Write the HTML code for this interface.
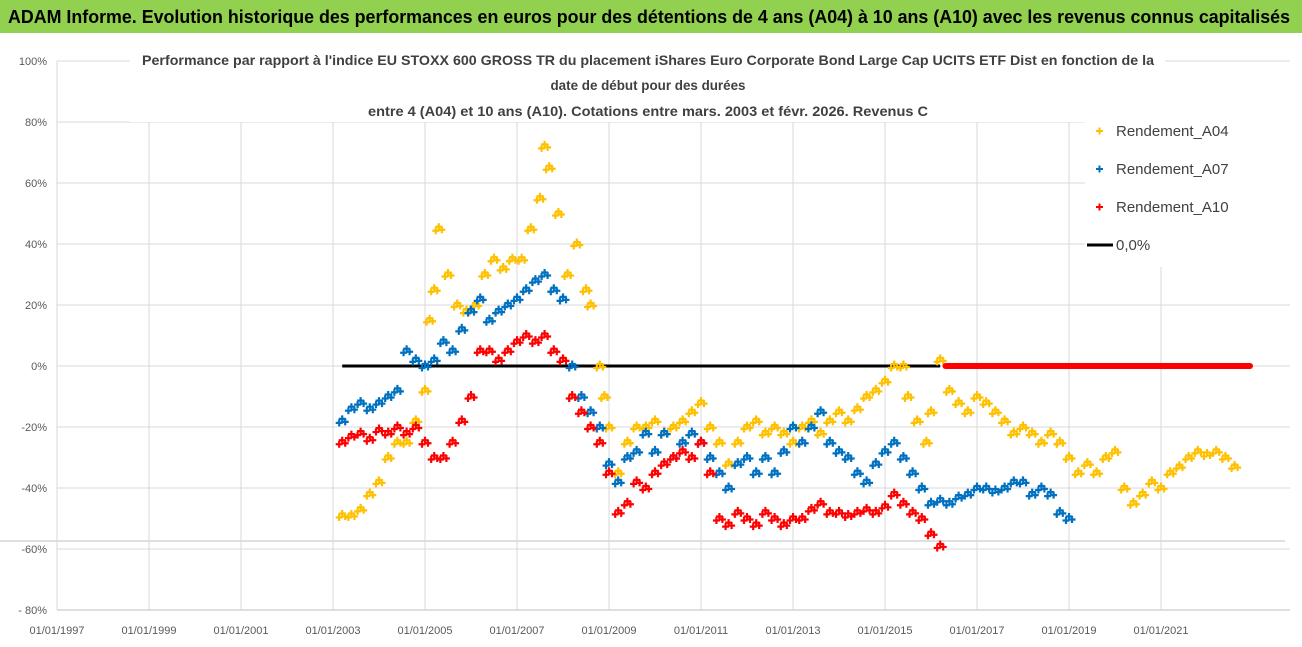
<!DOCTYPE html>
<html><head><meta charset="utf-8"><style>
body{margin:0;background:#fff}
svg{display:block;font-family:"Liberation Sans",sans-serif}
</style></head><body>
<svg id="chart" width="1302" height="647" viewBox="0 0 1302 647" xmlns="http://www.w3.org/2000/svg">
<rect x="0" y="0" width="1302" height="647" fill="#fff"/>
<rect x="0" y="0" width="1302" height="33" fill="#92d050"/>
<text x="8" y="23" font-size="18" font-weight="bold" fill="#000" textLength="1282" lengthAdjust="spacingAndGlyphs">ADAM Informe. Evolution historique des performances en euros pour des détentions de 4 ans (A04) à 10 ans (A10) avec les revenus connus capitalisés</text>
<g id="grid"></g>
<g id="ylab"></g>
<g id="xlab"></g>
<g id="marks"></g>
<rect x="130" y="44" width="1035" height="78" fill="#fff"/>
<g font-size="14" font-weight="bold" fill="#404040" text-anchor="middle">
<text x="648" y="65" textLength="1012" lengthAdjust="spacingAndGlyphs">Performance par rapport à l'indice EU STOXX 600 GROSS TR  du placement iShares Euro Corporate Bond Large Cap UCITS ETF Dist en fonction de la</text>
<text x="648" y="90" textLength="195" lengthAdjust="spacingAndGlyphs">date de début pour des durées</text>
<text x="648" y="116" textLength="560" lengthAdjust="spacingAndGlyphs">entre 4 (A04) et 10 ans (A10). Cotations entre mars. 2003 et févr. 2026. Revenus C</text>
</g>
<rect x="1085" y="112" width="205" height="155" fill="#fff"/>
<g id="legend" font-size="15" fill="#404040"></g>
</svg>
<script>
const yTicks=[100,80,60,40,20,0,-20,-40,-60,-80];
const yTickLabels=["100%","80%","60%","40%","20%","0%","-20%","-40%","-60%","- 80%"];
const xTicks=[1997,1999,2001,2003,2005,2007,2009,2011,2013,2015,2017,2019,2021];
const dA04=[2003.2,2003.4,2003.6,2003.8,2004.0,2004.2,2004.4,2004.6,2004.8,2005.0,2005.1,2005.2,2005.3,2005.5,2005.7,2005.9,2006.1,2006.3,2006.5,2006.7,2006.9,2007.1,2007.3,2007.5,2007.6,2007.7,2007.9,2008.1,2008.3,2008.5,2008.6,2008.8,2008.9,2009.0,2009.2,2009.4,2009.6,2009.8,2010.0,2010.2,2010.4,2010.6,2010.8,2011.0,2011.2,2011.4,2011.6,2011.8,2012.0,2012.2,2012.4,2012.6,2012.8,2013.0,2013.2,2013.4,2013.6,2013.8,2014.0,2014.2,2014.4,2014.6,2014.8,2015.0,2015.2,2015.4,2015.5,2015.7,2015.9,2016.0,2016.2,2016.4,2016.6,2016.8,2017.0,2017.2,2017.4,2017.6,2017.8,2018.0,2018.2,2018.4,2018.6,2018.8,2019.0,2019.2,2019.4,2019.6,2019.8,2020.0,2020.2,2020.4,2020.6,2020.8,2021.0,2021.2,2021.4,2021.6,2021.8,2022.0,2022.2,2022.4,2022.6];
const vA04=[-49,-49,-47,-42,-38,-30,-25,-25,-18,-8,15,25,45,30,20,18,20,30,35,32,35,35,45,55,72,65,50,30,40,25,20,0,-10,-20,-35,-25,-20,-20,-18,-22,-20,-18,-15,-12,-20,-25,-32,-25,-20,-18,-22,-20,-22,-25,-20,-18,-22,-18,-15,-18,-14,-10,-8,-5,0,0,-10,-18,-25,-15,2,-8,-12,-15,-10,-12,-15,-18,-22,-20,-22,-25,-22,-25,-30,-35,-32,-35,-30,-28,-40,-45,-42,-38,-40,-35,-33,-30,-28,-29,-28,-30,-33];
const dA07=[2003.2,2003.4,2003.6,2003.8,2004.0,2004.2,2004.4,2004.6,2004.8,2005.0,2005.2,2005.4,2005.6,2005.8,2006.0,2006.2,2006.4,2006.6,2006.8,2007.0,2007.2,2007.4,2007.6,2007.8,2008.0,2008.2,2008.4,2008.6,2008.8,2009.0,2009.2,2009.4,2009.6,2009.8,2010.0,2010.2,2010.4,2010.6,2010.8,2011.0,2011.2,2011.4,2011.6,2011.8,2012.0,2012.2,2012.4,2012.6,2012.8,2013.0,2013.2,2013.4,2013.6,2013.8,2014.0,2014.2,2014.4,2014.6,2014.8,2015.0,2015.2,2015.4,2015.6,2015.8,2016.0,2016.2,2016.4,2016.6,2016.8,2017.0,2017.2,2017.4,2017.6,2017.8,2018.0,2018.2,2018.4,2018.6,2018.8,2019.0];
const vA07=[-18,-14,-12,-14,-12,-10,-8,5,2,0,2,8,5,12,18,22,15,18,20,22,25,28,30,25,22,0,-10,-15,-20,-32,-38,-30,-28,-22,-28,-22,-30,-25,-22,-25,-30,-35,-40,-32,-30,-35,-30,-35,-28,-20,-25,-20,-15,-25,-28,-30,-35,-38,-32,-28,-25,-30,-35,-40,-45,-44,-45,-43,-42,-40,-40,-41,-40,-38,-38,-42,-40,-42,-48,-50];
const dA10=[2003.2,2003.4,2003.6,2003.8,2004.0,2004.2,2004.4,2004.6,2004.8,2005.0,2005.2,2005.4,2005.6,2005.8,2006.0,2006.2,2006.4,2006.6,2006.8,2007.0,2007.2,2007.4,2007.6,2007.8,2008.0,2008.2,2008.4,2008.6,2008.8,2009.0,2009.2,2009.4,2009.6,2009.8,2010.0,2010.2,2010.4,2010.6,2010.8,2011.0,2011.2,2011.4,2011.6,2011.8,2012.0,2012.2,2012.4,2012.6,2012.8,2013.0,2013.2,2013.4,2013.6,2013.8,2014.0,2014.2,2014.4,2014.6,2014.8,2015.0,2015.2,2015.4,2015.6,2015.8,2016.0,2016.2];
const vA10=[-25,-23,-22,-24,-21,-22,-20,-22,-20,-25,-30,-30,-25,-18,-10,5,5,2,5,8,10,8,10,5,2,-10,-15,-20,-25,-35,-48,-45,-38,-40,-35,-32,-30,-28,-30,-25,-35,-50,-52,-48,-50,-52,-48,-50,-52,-50,-50,-47,-45,-48,-48,-49,-48,-47,-48,-46,-42,-45,-48,-50,-55,-59];
const a10ZeroRange=[2016.25,2023.0];
const zeroLine=[2003.2,2016.2];

const X=d=>57+(d-1997)*46;
const Y=v=>366-v*3.05;
const NS="http://www.w3.org/2000/svg";
function mk(tag,parent){const e=document.createElementNS(NS,tag);document.getElementById(parent).appendChild(e);return e;}

yTicks.forEach((t,i)=>{
  const l=mk('line','grid');
  
  
  l.setAttribute('x1',57);l.setAttribute('x2',1290);l.setAttribute('y1',Y(t));l.setAttribute('y2',Y(t));
  l.setAttribute('stroke',t===-80?'#bfbfbf':'#d9d9d9');l.setAttribute('stroke-width',1);
  const tx=mk('text','ylab');
  
  
  tx.setAttribute('x',47);tx.setAttribute('y',Y(t)+4);tx.setAttribute('text-anchor','end');
  tx.setAttribute('font-size',11);tx.setAttribute('fill','#595959');tx.textContent=yTickLabels[i];
});
const ex=mk('line','grid');


ex.setAttribute('x1',0);ex.setAttribute('x2',1285);ex.setAttribute('y1',541);ex.setAttribute('y2',541);ex.setAttribute('stroke','#bfbfbf');
xTicks.forEach(t=>{
  const l=mk('line','grid');
  
  
  l.setAttribute('x1',X(t));l.setAttribute('x2',X(t));l.setAttribute('y1',Y(100));l.setAttribute('y2',Y(-80));
  l.setAttribute('stroke','#d9d9d9');
  const tx=mk('text','xlab');
  
  
  tx.setAttribute('x',X(t));tx.setAttribute('y',634);tx.setAttribute('text-anchor','middle');
  tx.setAttribute('font-size',11);tx.setAttribute('fill','#595959');tx.textContent='01/01/'+t;
});
// each value drawn as a small cluster glyph to mimic the dense daily scatter
const cluster=[[-3,2],[0,-2],[3,1]];
function plus(px,py,color,name){
  const p=mk('path','marks');
  
  
  let d='';
  cluster.forEach(([ox,oy])=>{const cx=px+ox,cy=py+oy;d+=`M${cx-3.5},${cy}h7M${cx},${cy-3.5}v7`;});
  p.setAttribute('d',d);
  p.setAttribute('stroke',color);p.setAttribute('stroke-width',2.2);
}
const zl=mk('line','marks');


zl.setAttribute('x1',X(zeroLine[0]));zl.setAttribute('x2',X(zeroLine[1]));zl.setAttribute('y1',Y(0));zl.setAttribute('y2',Y(0));
zl.setAttribute('stroke','#000');zl.setAttribute('stroke-width',3);
dA04.forEach((d,i)=>plus(X(d),Y(vA04[i]),'#ffc000','point-a04'));
dA07.forEach((d,i)=>plus(X(d),Y(vA07[i]),'#0070c0','point-a07'));
dA10.forEach((d,i)=>plus(X(d),Y(vA10[i]),'#ff0000','point-a10'));
const zb=mk('rect','marks');


zb.setAttribute('x',X(a10ZeroRange[0]));zb.setAttribute('width',X(a10ZeroRange[1])-X(a10ZeroRange[0]));
zb.setAttribute('y',Y(0)-3);zb.setAttribute('height',6);zb.setAttribute('rx',3);zb.setAttribute('fill','#ff0000');

const leg=[["Rendement_A04","#ffc000",131],["Rendement_A07","#0070c0",169],["Rendement_A10","#ff0000",207]];
leg.forEach(([n,c,y])=>{
  const p=mk('path','legend');
  
  
  p.setAttribute('d',`M1096,${y}h7M1099.5,${y-3.5}v7`);p.setAttribute('stroke',c);p.setAttribute('stroke-width',2);
  const t=mk('text','legend');
  
  
  t.setAttribute('x',1116);t.setAttribute('y',y+5);t.textContent=n;
});
const ll=mk('line','legend');


ll.setAttribute('x1',1087);ll.setAttribute('x2',1113);ll.setAttribute('y1',245);ll.setAttribute('y2',245);ll.setAttribute('stroke','#000');ll.setAttribute('stroke-width',3);
const lt=mk('text','legend');


lt.setAttribute('x',1116);lt.setAttribute('y',250);lt.textContent='0,0%';
</script>
</body></html>
